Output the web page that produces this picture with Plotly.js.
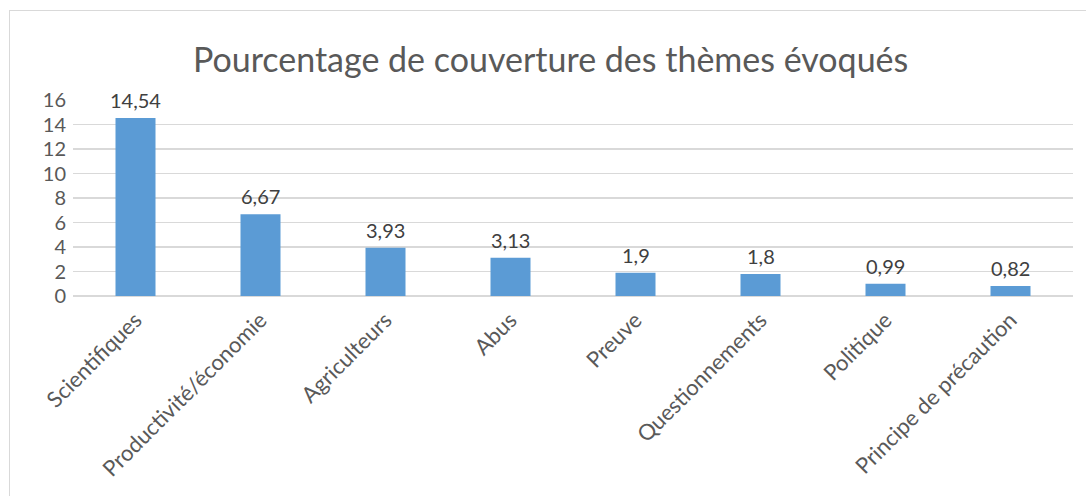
<!DOCTYPE html>
<html><head><meta charset="utf-8">
<script src="https://cdn.plot.ly/plotly-3.0.1.min.js"></script>
<style>
html,body{margin:0;padding:0;background:#fff;overflow:hidden}
#chart{width:1086px;height:496px;position:absolute;left:0;top:0}
#frame{position:absolute;left:9px;top:10px;width:1200px;height:600px;border:1.5px solid #d9d9d9;pointer-events:none}
</style></head>
<body>
<div id="chart"></div>
<div id="frame"></div>
<script>
var categories = ["Scientifiques","Productivité/économie","Agriculteurs","Abus","Preuve","Questionnements","Politique","Principe de précaution"];
var values = [14.54, 6.67, 3.93, 3.13, 1.9, 1.8, 0.99, 0.82];
var valueLabels = ["14,54","6,67","3,93","3,13","1,9","1,8","0,99","0,82"];
var yTicks = [0,2,4,6,8,10,12,14,16];

var font = "Lato, 'Open Sans', sans-serif";
var annotations = categories.map(function(c, i) {
  return {x: c, y: values[i], xref: 'x', yref: 'y', text: valueLabels[i], showarrow: false,
          yanchor: 'bottom', yshift: 4, font: {family: font, size: 20, color: '#404040'}};
});
Plotly.newPlot('chart', [{
  type: 'bar',
  x: categories,
  y: values,
  marker: {color: '#5B9BD5'},
  width: 0.32,
  hoverinfo: 'none'
}], {
  width: 1086, height: 496,
  margin: {l: 73, r: 13, t: 100, b: 200, pad: 0},
  paper_bgcolor: 'rgba(0,0,0,0)',
  plot_bgcolor: 'rgba(0,0,0,0)',
  showlegend: false,
  annotations: annotations,
  title: {text: 'Pourcentage de couverture des thèmes évoqués', x: 0.507, xanchor: 'center', y: 0.878, yanchor: 'middle',
          font: {family: font, size: 34, color: '#595959'}},
  xaxis: {tickangle: -45, tickfont: {family: font, size: 22, color: '#595959'},
          showgrid: false, zeroline: false, showline: false, ticks: '', ticklabelstandoff: 6, automargin: false},
  yaxis: {range: [0, 16], tickvals: yTicks, ticktext: yTicks.map(String),
          tickfont: {family: font, size: 20, color: '#595959'},
          gridcolor: '#d9d9d9', gridwidth: 1.5, zeroline: true, zerolinecolor: '#d9d9d9', zerolinewidth: 2,
          showline: false, ticks: '', ticklabelstandoff: 6, automargin: false, fixedrange: true}
}, {staticPlot: true});
</script>
</body></html>
